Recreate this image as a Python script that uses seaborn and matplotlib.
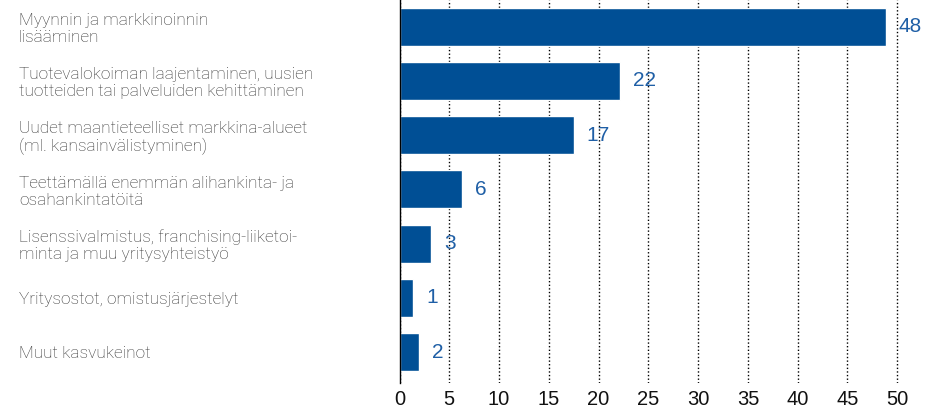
import matplotlib
matplotlib.use("Agg")
import matplotlib.pyplot as plt
import pandas as pd
import seaborn as sns

categories = [
    "Myynnin ja markkinoinnin\nlisääminen",
    "Tuotevalokoiman laajentaminen, uusien\ntuotteiden tai palveluiden kehittäminen",
    "Uudet maantieteelliset markkina-alueet\n(ml. kansainvälistyminen)",
    "Teettämällä enemmän alihankinta- ja\nosahankintatöitä",
    "Lisenssivalmistus, franchising-liiketoi-\nminta ja muu yritysyhteistyö",
    "Yritysostot, omistusjärjestelyt",
    "Muut kasvukeinot",
]
# bar lengths as drawn, and the rounded labels printed next to them
values = [48.9, 22.2, 17.5, 6.3, 3.2, 1.4, 2.0]
value_labels = ["48", "22", "17", "6", "3", "1", "2"]
xticks = [0, 5, 10, 15, 20, 25, 30, 35, 40, 45, 50]

df = pd.DataFrame({"kategoria": categories, "arvo": values})

sns.set_style("white")
plt.rcParams["font.family"] = ["Liberation Sans", "DejaVu Sans"]

fig = plt.figure(figsize=(9.44, 4.09), dpi=100)
ax = fig.add_axes([0.4232, 0.0636, 0.5768, 0.9364])

sns.barplot(data=df, y="kategoria", x="arvo", orient="h", color="#004F95",
            saturation=1, width=0.7, ax=ax)

ax.set_xlim(0, 54.7)
ax.set_ylim(6.57, -0.49)
ax.set_xlabel("")
ax.set_ylabel("")

ax.set_xticks(xticks)
ax.set_xticklabels([str(t) for t in xticks], fontsize=14.5, color="#111111")
ax.tick_params(axis="x", length=0, pad=5)
ax.tick_params(axis="y", length=0, pad=274)
for lab in ax.get_yticklabels():
    lab.set_horizontalalignment("left")
    lab.set_multialignment("left")
    lab.set_fontfamily(["Roboto", "DejaVu Sans"])
    lab.set_fontweight("light")
    lab.set_fontsize(12.4)
    lab.set_color("#333333")
    lab.set_linespacing(1.15)

ax.set_axisbelow(True)
ax.xaxis.grid(True, color="black", linestyle=(0, (1, 1.6)), linewidth=1.0)
ax.yaxis.grid(False)

for s in ["top", "right", "bottom"]:
    ax.spines[s].set_visible(False)
ax.spines["left"].set_color("black")
ax.spines["left"].set_linewidth(1.0)
ax.spines["left"].set_zorder(3)

for i, (v, lab) in enumerate(zip(values, value_labels)):
    ax.annotate(lab, (v, i), xytext=(9, 0), textcoords="offset points",
                va="center", ha="left", fontsize=15, color="#1F5FA6")

fig.savefig("out.png", dpi=100)
